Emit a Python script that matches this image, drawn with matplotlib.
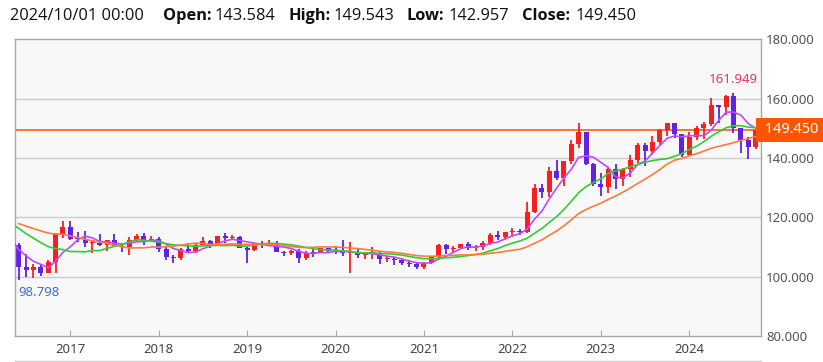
import numpy as np
import pandas as pd
import matplotlib
matplotlib.use("Agg")
import matplotlib.pyplot as plt
from matplotlib.lines import Line2D

# monthly candles, 2016/06 .. 2024/10
months = pd.period_range("2016-06", "2024-10", freq="M")

opens = [110.7, 103.2, 102.1, 103.4, 101.35, 104.8, 114.5,
         116.9, 112.8, 112.7, 111.4, 111.5, 110.8, 112.4, 110.3, 110.0, 112.5, 113.7, 112.5,
         112.7, 109.2, 106.7, 106.3, 109.3, 108.8, 110.7, 111.9, 111.0, 113.7, 112.9, 113.5,
         109.7, 108.9, 111.4, 110.9, 111.4, 108.3, 107.9, 108.8, 106.3, 108.1, 108.0, 109.5,
         108.6, 108.4, 107.9, 108.0, 107.2, 107.8, 107.9, 105.8, 105.9, 105.5, 104.7, 104.3,
         103.25, 104.7, 106.6, 110.7, 109.3, 109.6, 111.1, 109.7, 110.0, 111.3, 114.0, 113.2,
         115.1, 115.2, 115.0, 121.7, 129.8, 128.7, 135.7, 133.2, 138.9, 144.7, 148.7, 138.0,
         131.1, 130.1, 136.2, 132.8, 136.3, 139.3, 144.3, 142.3, 145.5, 149.4, 151.7, 148.2,
         141.0, 147.0, 150.0, 151.3, 157.8, 157.3, 160.9, 150.0, 146.2, 143.584]
highs = [111.4, 107.5, 104.3, 104.3, 105.5, 114.8, 118.66,
         118.6, 115.0, 115.5, 112.2, 114.4, 112.4, 114.5, 111.0, 113.2, 114.4, 114.7, 113.75,
         113.4, 110.5, 107.3, 109.5, 111.4, 110.9, 113.2, 112.2, 113.7, 114.55, 114.2, 113.8,
         109.9, 111.5, 112.1, 112.4, 112.0, 108.8, 109.0, 109.3, 108.5, 109.3, 109.7, 109.7,
         110.3, 112.2, 111.7, 109.4, 108.1, 109.85, 108.2, 107.05, 106.55, 106.1, 105.7, 104.75,
         104.9, 106.7, 110.97, 110.96, 110.2, 111.1, 111.65, 110.8, 112.1, 114.7, 115.5, 115.2,
         116.35, 116.2, 125.1, 131.25, 131.35, 137.0, 139.4, 139.1, 145.9, 151.95, 148.8, 138.2,
         134.8, 136.9, 137.9, 136.6, 140.9, 145.0, 145.1, 147.4, 149.7, 151.7, 151.9, 148.2,
         148.8, 150.9, 151.97, 160.2, 157.99, 161.3, 161.949, 150.0, 147.2, 149.543]
lows = [98.798, 99.98, 99.55, 100.1, 101.2, 101.2, 112.9,
        112.5, 111.6, 110.1, 108.1, 110.2, 108.8, 110.6, 108.3, 107.3, 111.6, 110.8, 111.9,
        108.3, 105.55, 104.6, 105.7, 108.1, 108.1, 110.3, 109.8, 110.4, 111.4, 112.3, 109.5,
        104.7, 108.5, 109.7, 110.8, 108.2, 106.8, 107.2, 104.5, 105.7, 106.5, 107.9, 108.4,
        107.65, 107.0, 101.2, 106.4, 106.0, 106.1, 104.2, 105.1, 104.0, 104.0, 103.2, 102.6,
        102.6, 104.4, 106.4, 107.5, 108.3, 109.2, 109.1, 108.7, 109.1, 110.8, 112.5, 112.5,
        113.5, 114.15, 114.65, 121.3, 126.4, 126.9, 132.5, 130.4, 138.0, 143.5, 137.5, 130.6,
        127.2, 128.1, 129.6, 130.6, 133.5, 138.4, 137.2, 141.5, 144.4, 147.3, 146.7, 140.25,
        140.8, 145.9, 146.5, 150.8, 151.9, 154.55, 148.5, 141.7, 139.6, 142.957]
closes = [103.2, 102.1, 103.4, 101.35, 104.8, 114.5, 116.9,
          112.8, 112.7, 111.4, 111.5, 110.8, 112.4, 110.3, 110.0, 112.5, 113.7, 112.5, 112.7,
          109.2, 106.7, 106.3, 109.3, 108.8, 110.7, 111.9, 111.0, 113.7, 112.9, 113.5, 109.7,
          108.9, 111.4, 110.9, 111.4, 108.3, 107.9, 108.8, 106.3, 108.1, 108.0, 109.5, 108.6,
          108.4, 107.9, 108.0, 107.2, 107.8, 107.9, 105.8, 105.9, 105.5, 104.7, 104.3, 103.25,
          104.7, 106.6, 110.7, 109.3, 109.6, 111.1, 109.7, 110.0, 111.3, 114.0, 113.2, 115.1,
          115.2, 115.0, 121.7, 129.8, 128.7, 135.7, 133.2, 138.9, 144.7, 148.7, 138.0, 131.1,
          130.1, 136.2, 132.8, 136.3, 139.3, 144.3, 142.3, 145.5, 149.4, 151.7, 148.2, 141.0,
          147.0, 150.0, 151.3, 157.8, 157.3, 160.9, 150.0, 146.2, 143.6, 149.45]

# closes of the months before the first candle (2014/11 .. 2016/05), so the averages start filled
closes_before = [118.6, 119.8, 117.5, 119.6, 120.1, 119.4, 124.1, 122.5, 123.9, 121.2,
                 119.9, 120.6, 123.1, 120.2, 121.0, 112.7, 112.6, 106.5, 110.7]

ma_periods = [5, 12, 20]
ma_colors = ["#c447ff", "#33cc33", "#ff7a3d"]

header_time = "2024/10/01 00:00"
last_price = 149.450

UP = "#fa1e1e"
DOWN = "#6320e6"

W, H = 823, 362
fig = plt.figure(figsize=(W / 100, H / 100), dpi=100)
fig.patch.set_facecolor("white")
L, R, T, B = 15.3, 760.5, 39.3, 336
ax = fig.add_axes([L / W, 1 - B / H, (R - L) / W, (B - T) / H])
ax.set_facecolor("#f8f8f8")

n = len(closes)
x = np.arange(n)
o = np.array(opens); h = np.array(highs); lo = np.array(lows); c = np.array(closes)
cols = np.where(c >= o, UP, DOWN)

# price line under the candles
ax.axhline(last_price, color="#ff5000", lw=1.1, zorder=1.5)

ax.vlines(x, lo, h, colors=cols, lw=1.3, zorder=2)
body_lo = np.minimum(o, c)
body_h = np.maximum(np.abs(c - o), 0.35)
ax.bar(x, body_h, bottom=body_lo, width=0.68, color=cols, lw=0, zorder=2.5)

# moving averages
allc = pd.Series(closes_before + closes)
xa = np.arange(-len(closes_before), n)
for p, col in zip(ma_periods, ma_colors):
    ax.plot(xa, allc.rolling(p).mean(), color=col, lw=1.2, zorder=3)

ax.set_xlim(-0.46, 100.67)
ax.set_ylim(80, 180)

for s in ax.spines.values():
    s.set_color("#a8a8a8")
    s.set_linewidth(1)

yt = [80, 100, 120, 140, 160, 180]
ax.set_yticks(yt)
ax.set_yticklabels(["%.3f" % v for v in yt])
ax.yaxis.tick_right()
ax.tick_params(axis="y", length=0, pad=4, labelsize=9.5, labelcolor="#555555")
for v in yt[1:-1]:
    ax.axhline(v, color="#cccccc", lw=1, zorder=0.5)

jan = [i for i, m in enumerate(months) if m.month == 1]
ax.set_xticks(jan)
ax.set_xticklabels([str(months[i].year) for i in jan])
ax.tick_params(axis="x", direction="in", length=4, width=0.8, color="#a8a8a8",
               pad=5, labelsize=9.5, labelcolor="#444444")
for lab in ax.get_xticklabels() + ax.get_yticklabels():
    lab.set_family("Noto Sans")

# high / low markers
imax = int(np.argmax(h)); imin = int(np.argmin(lo))
ax.text(imax, 166.4, "%.3f" % h[imax], ha="center", va="center", color="#e8336b",
        fontsize=9.5, family="Noto Sans", zorder=4)
ax.text(imin, 94.6, "%.3f" % lo[imin], ha="left", va="center", color="#3f6fd4",
        fontsize=9.5, family="Noto Sans", zorder=4)

# current price tag
ax.text(1.0, last_price, " %.3f " % last_price, transform=ax.get_yaxis_transform(),
        ha="left", va="center", color="white", fontsize=10.5, family="Noto Sans",
        bbox=dict(boxstyle="square,pad=0.3", fc="#ff5500", ec="none"), clip_on=False, zorder=5)

# bottom separator
fig.add_artist(Line2D([L / W, R / W], [1 - 361 / H, 1 - 361 / H], color="#cccccc", lw=1))

# header
hy = 1 - 16 / H
pieces = [(10, header_time, "normal"),
          (163, "Open:", "bold"), (214, "%.3f" % o[-1], "normal"),
          (288, "High:", "bold"), (333, "%.3f" % h[-1], "normal"),
          (407, "Low:", "bold"), (448, "%.3f" % lo[-1], "normal"),
          (522, "Close:", "bold"), (575, "%.3f" % c[-1], "normal")]
for px, txt, wt in pieces:
    fig.text(px / W, hy, txt, ha="left", va="center", fontsize=11.8, fontweight=wt,
             family="Open Sans", color="#111111")

fig.savefig("out.png", dpi=100)
